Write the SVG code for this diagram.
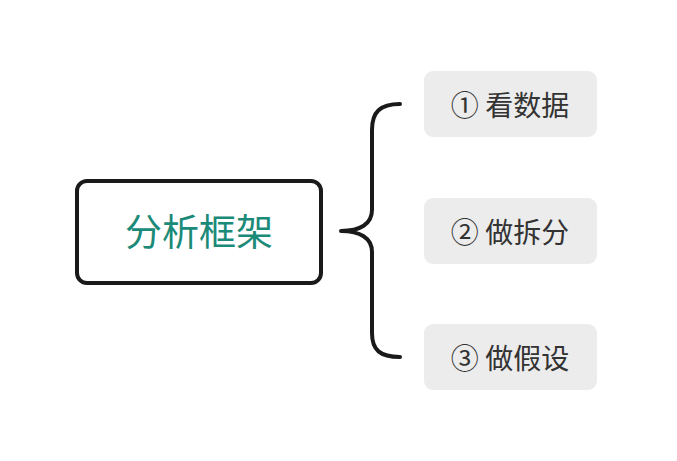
<svg xmlns="http://www.w3.org/2000/svg" width="677" height="461" viewBox="0 0 677 461">
<style>
.leaf rect{fill:#ececec;}
.leaf text{font-family:"Noto Sans CJK SC","Noto Sans",sans-serif;font-size:28px;fill:#333333;text-anchor:middle;dominant-baseline:central;}
</style>
<rect width="677" height="461" fill="#ffffff"/>
<g id="connectors">
<path d="M400,104 C380,104 372,112 372,130 L372,210 C372,224 360,231 341,231 C360,231 372,238 372,252 L372,333 C372,350 380,357 400,357" fill="none" stroke="#1a1a1a" stroke-width="4" stroke-linecap="round" stroke-linejoin="round"/>
</g>
<g id="root">
<rect x="77" y="181" width="244" height="102" rx="10" fill="#ffffff" stroke="#1a1a1a" stroke-width="4"/>
<text x="199" y="230" font-family="Noto Sans CJK SC,sans-serif" font-size="37" fill="#1b8a78" text-anchor="middle" dominant-baseline="central">分析框架</text>
</g>
<g id="n1" class="leaf">
<rect x="424" y="71" width="173" height="66" rx="9"/>
<text x="510" y="104">① 看数据</text>
</g>
<g id="n2" class="leaf">
<rect x="424" y="198" width="173" height="66" rx="9"/>
<text x="510" y="231">② 做拆分</text>
</g>
<g id="n3" class="leaf">
<rect x="424" y="324" width="173" height="66" rx="9"/>
<text x="510" y="357">③ 做假设</text>
</g>
</svg>
